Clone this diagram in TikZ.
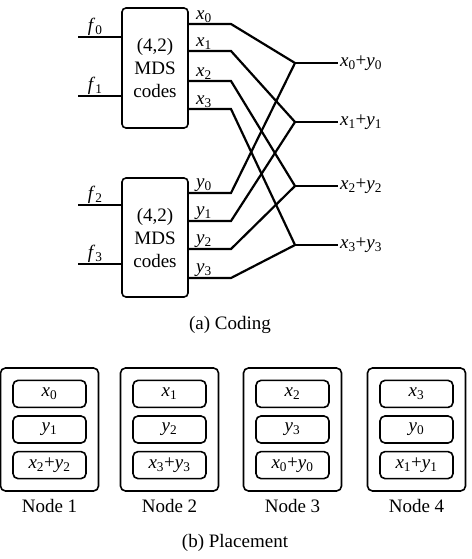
\documentclass[tikz,border=0pt]{standalone}
\usepackage{fontspec}
\setmainfont{Liberation Serif}
\usetikzlibrary{positioning,calc}
\newcommand{\boxfont}{\fontsize{19}{23}\selectfont}
\newcommand{\vsub}[2]{\textit{#1}\textsubscript{#2}}
\tikzset{
  wire/.style={line width=2.2pt},
  codebox/.style={draw, line width=1.6pt, rounded corners=4pt, minimum width=66pt,
    minimum height=120pt, align=center, font=\boxfont, inner sep=0pt},
  holder/.style={draw, line width=1.6pt, rounded corners=5pt, minimum width=98pt,
    minimum height=123pt, inner sep=0pt},
  slot/.style={draw, line width=1.6pt, rounded corners=5pt, minimum width=73pt,
    minimum height=27pt, inner sep=0pt, font=\boxfont},
  lbl/.style={font=\boxfont, inner sep=1pt}
}
\begin{document}
\begin{tikzpicture}[x=1pt,y=-1pt]
  \useasboundingbox (0,0) rectangle (471,559);
  % (a) coding
  \node[codebox] (encA) at (155,68) {(4,2)\\MDS\\codes};
  \node[codebox, minimum height=119pt] (encB) at (155,237.5) {(4,2)\\MDS\\codes};
  \foreach \i/\y in {0/37,1/96} {
    \coordinate (finA\i) at (78,\y);
    \draw[wire] (finA\i) -- (encA.west |- finA\i);
    \node[lbl, above] at ($(finA\i)!0.4!(encA.west |- finA\i)$) {\vsub{f}{\i}};
  }
  \foreach \i/\j/\y in {0/2/205,1/3/264} {
    \coordinate (finB\i) at (78,\y);
    \draw[wire] (finB\i) -- (encB.west |- finB\i);
    \node[lbl, above] at ($(finB\i)!0.4!(encB.west |- finB\i)$) {\vsub{f}{\j}};
  }
  % sums
  \foreach \i/\y in {0/63,1/122,2/186,3/245} {
    \coordinate (sum\i) at (295,\y);
    \coordinate (sumEnd\i) at (338,\y);
    \draw[wire] (sum\i) -- (sumEnd\i) node[lbl, right] {\vsub{x}{\i}+\vsub{y}{\i}};
  }
  \foreach \i/\y in {0/24,1/51,2/81,3/109} {
    \coordinate (xb\i) at (231,\y);
    \draw[wire] (encA.east |- xb\i) -- (xb\i) -- (sum\i);
    \node[lbl, above] at ($(encA.east |- xb\i)!0.36!(xb\i)$) {\vsub{x}{\i}};
  }
  \foreach \i/\y in {0/193,1/221,2/249,3/278} {
    \coordinate (yb\i) at (231,\y);
    \draw[wire] (encB.east |- yb\i) -- (yb\i) -- (sum\i);
    \node[lbl, above] at ($(encB.east |- yb\i)!0.36!(yb\i)$) {\vsub{y}{\i}};
  }
  \node[lbl] (capA) at (230,325) {(a) Coding};
  % (b) placement
  \foreach \k/\cx/\ta/\tb/\tc in {
      1/49.5/{\vsub{x}{0}}/{\vsub{y}{1}}/{\vsub{x}{2}+\vsub{y}{2}},
      2/169.5/{\vsub{x}{1}}/{\vsub{y}{2}}/{\vsub{x}{3}+\vsub{y}{3}},
      3/292.5/{\vsub{x}{2}}/{\vsub{y}{3}}/{\vsub{x}{0}+\vsub{y}{0}},
      4/416.5/{\vsub{x}{3}}/{\vsub{y}{0}}/{\vsub{x}{1}+\vsub{y}{1}}} {
    \node[holder] (node\k) at (\cx,429.5) {};
    \node[slot] (mid\k) at (node\k.center) {\tb};
    \node[slot, above=7pt of mid\k] (top\k) {\ta};
    \node[slot, below=7pt of mid\k] (bot\k) {\tc};
    \node[lbl, below=6pt of node\k] (name\k) {Node \k};
  }
  \node[lbl] (capB) at (235,543) {(b) Placement};
\end{tikzpicture}
\end{document}
